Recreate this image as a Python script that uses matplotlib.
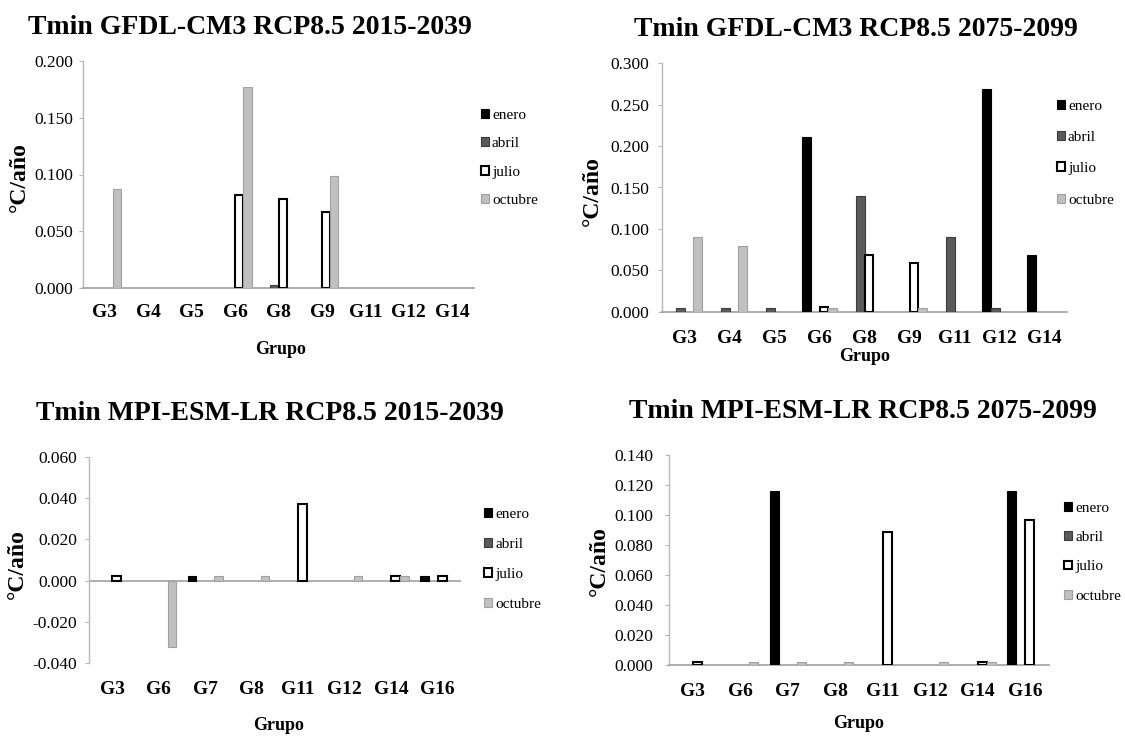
import matplotlib
matplotlib.use("Agg")
import matplotlib.pyplot as plt
import numpy as np
from matplotlib.patches import Patch
from matplotlib.ticker import FormatStrFormatter

plt.rcParams['font.family'] = ['Liberation Serif', 'DejaVu Serif']

# ---------------------------------------------------------------- data
meses = ['enero', 'abril', 'julio', 'octubre']

grupos_gfdl = ['G3', 'G4', 'G5', 'G6', 'G8', 'G9', 'G11', 'G12', 'G14']
grupos_mpi = ['G3', 'G6', 'G7', 'G8', 'G11', 'G12', 'G14', 'G16']

# Tmin GFDL-CM3 RCP8.5 2015-2039 (°C/año)
gfdl_2015_enero = [0, 0, 0, 0, 0, 0, 0, 0, 0]
gfdl_2015_abril = [0, 0, 0, 0, 0.003, 0, 0, 0, 0]
gfdl_2015_julio = [0, 0, 0, 0.082, 0.078, 0.067, 0, 0, 0]
gfdl_2015_octubre = [0.087, 0, 0, 0.177, 0, 0.099, 0, 0, 0]

# Tmin GFDL-CM3 RCP8.5 2075-2099
gfdl_2075_enero = [0, 0, 0, 0.211, 0, 0, 0, 0.269, 0.068]
gfdl_2075_abril = [0.004, 0.004, 0.004, 0, 0.140, 0, 0.090, 0.004, 0]
gfdl_2075_julio = [0, 0, 0, 0.006, 0.069, 0.059, 0, 0, 0]
gfdl_2075_octubre = [0.090, 0.079, 0, 0.004, 0, 0.004, 0, 0, 0]

# Tmin MPI-ESM-LR RCP8.5 2015-2039
mpi_2015_enero = [0, 0, 0.002, 0, 0, 0, 0, 0.002]
mpi_2015_abril = [0, 0, 0, 0, 0, 0, 0, 0]
mpi_2015_julio = [0.002, 0, 0, 0, 0.037, 0, 0.002, 0.002]
mpi_2015_octubre = [0, -0.032, 0.002, 0.002, 0, 0.002, 0.002, 0]

# Tmin MPI-ESM-LR RCP8.5 2075-2099
mpi_2075_enero = [0, 0, 0.116, 0, 0, 0, 0, 0.116]
mpi_2075_abril = [0, 0, 0, 0, 0, 0, 0, 0]
mpi_2075_julio = [0.002, 0, 0, 0, 0.089, 0, 0.002, 0.097]
mpi_2075_octubre = [0, 0.002, 0.002, 0.002, 0, 0.002, 0.002, 0]


# ---------------------------------------------------------------- figure
W, H = 1125, 736
fig = plt.figure(figsize=(W / 100, H / 100), dpi=100)
fig.patch.set_facecolor('white')

estilo = {
    'enero': dict(facecolor='#000000', edgecolor='#000000', lw=0.8),
    'abril': dict(facecolor='#5a5a5a', edgecolor='#3c3c3c', lw=0.8),
    'julio': dict(facecolor='#ffffff', edgecolor='#000000', lw=1.5),
    'octubre': dict(facecolor='#c0c0c0', edgecolor='#a0a0a0', lw=0.8),
}


def fx(px):
    return px / W


def fy(py):
    return 1 - py / H


def panel(titulo, grupos, series, ylim, paso, box, title_xy, ylabel_xy,
          xlabel_xy, xpad, ypad, leg_xy, leg_spacing):
    x0, x1, ytop, ybot = box
    ax = fig.add_axes([fx(x0), fy(ybot), (x1 - x0) / W, (ybot - ytop) / H])
    x = np.arange(len(grupos))
    ancho = 0.19
    for k, mes in enumerate(meses):
        vals = np.asarray(series[mes], dtype=float)
        st = estilo[mes]
        ax.bar(x + (k - 1.5) * ancho, vals, width=ancho,
               facecolor=st['facecolor'], edgecolor=st['edgecolor'],
               linewidth=[st['lw'] if v != 0 else 0 for v in vals], zorder=3)

    ax.set_xlim(-0.5, len(grupos) - 0.5)
    ax.set_ylim(*ylim)
    ax.set_yticks(np.round(np.arange(ylim[0], ylim[1] + paso / 2, paso), 3))
    ax.yaxis.set_major_formatter(FormatStrFormatter('%.3f'))
    ax.set_xticks(x, grupos)

    for s in ('top', 'right'):
        ax.spines[s].set_visible(False)
    ax.spines['left'].set_color('#b8b8b8')
    ax.spines['left'].set_linewidth(1.0)
    if ylim[0] < 0:
        ax.spines['bottom'].set_visible(False)
        ax.axhline(0, color='#a0a0a0', lw=1.2, zorder=2)
    else:
        ax.spines['bottom'].set_color('#a0a0a0')
        ax.spines['bottom'].set_linewidth(1.2)

    ax.tick_params(axis='x', length=0, pad=xpad, labelsize=14)
    ax.tick_params(axis='y', length=3, width=0.8, color='#b8b8b8',
                   pad=ypad, labelsize=12.5, direction='out')
    for t in ax.get_xticklabels():
        t.set_fontweight('bold')

    fig.text(fx(title_xy[0]), fy(title_xy[1]), titulo, ha='center',
             va='baseline', fontsize=20, fontweight='bold')
    fig.text(fx(ylabel_xy[0]), fy(ylabel_xy[1]), '°C/año', rotation=90,
             ha='center', va='center', fontsize=17, fontweight='bold')
    fig.text(fx(xlabel_xy[0]), fy(xlabel_xy[1]), 'Grupo', ha='center',
             va='baseline', fontsize=13, fontweight='bold')

    handles = [Patch(facecolor=estilo[m]['facecolor'],
                     edgecolor=estilo[m]['edgecolor'],
                     linewidth=estilo[m]['lw']) for m in meses]
    ax.legend(handles, meses, loc='upper left',
              bbox_to_anchor=(fx(leg_xy[0]), fy(leg_xy[1])),
              bbox_transform=fig.transFigure, frameon=False,
              fontsize=11, handlelength=0.52, handleheight=0.52,
              handletextpad=0.2, labelspacing=leg_spacing,
              borderpad=0, borderaxespad=0)
    return ax


panel('Tmin GFDL-CM3 RCP8.5 2015-2039', grupos_gfdl,
      {'enero': gfdl_2015_enero, 'abril': gfdl_2015_abril,
       'julio': gfdl_2015_julio, 'octubre': gfdl_2015_octubre},
      (0, 0.2), 0.05, (83, 474, 61, 288),
      (250, 34), (19, 177), (281, 353.5), 11.7, 4.3, (481, 109), 1.0)

panel('Tmin GFDL-CM3 RCP8.5 2075-2099', grupos_gfdl,
      {'enero': gfdl_2075_enero, 'abril': gfdl_2075_abril,
       'julio': gfdl_2075_julio, 'octubre': gfdl_2075_octubre},
      (0, 0.3), 0.05, (662, 1067, 63.3, 311.7),
      (856, 35.7), (592, 191), (865, 361), 13, 6.5, (1057, 100), 1.19)

panel('Tmin MPI-ESM-LR RCP8.5 2015-2039', grupos_mpi,
      {'enero': mpi_2015_enero, 'abril': mpi_2015_abril,
       'julio': mpi_2015_julio, 'octubre': mpi_2015_octubre},
      (-0.04, 0.06), 0.02, (89, 461, 457, 663),
      (270, 419.6), (17, 564), (279, 730), 12.7, 5.8, (484, 508), 1.12)

panel('Tmin MPI-ESM-LR RCP8.5 2075-2099', grupos_mpi,
      {'enero': mpi_2075_enero, 'abril': mpi_2075_abril,
       'julio': mpi_2075_julio, 'octubre': mpi_2075_octubre},
      (0, 0.14), 0.02, (669, 1049, 455, 665),
      (863, 417.6), (599, 561), (859, 728), 12.7, 8.6, (1064, 502), 1.06)

fig.savefig('out.png', dpi=100, facecolor='white')
